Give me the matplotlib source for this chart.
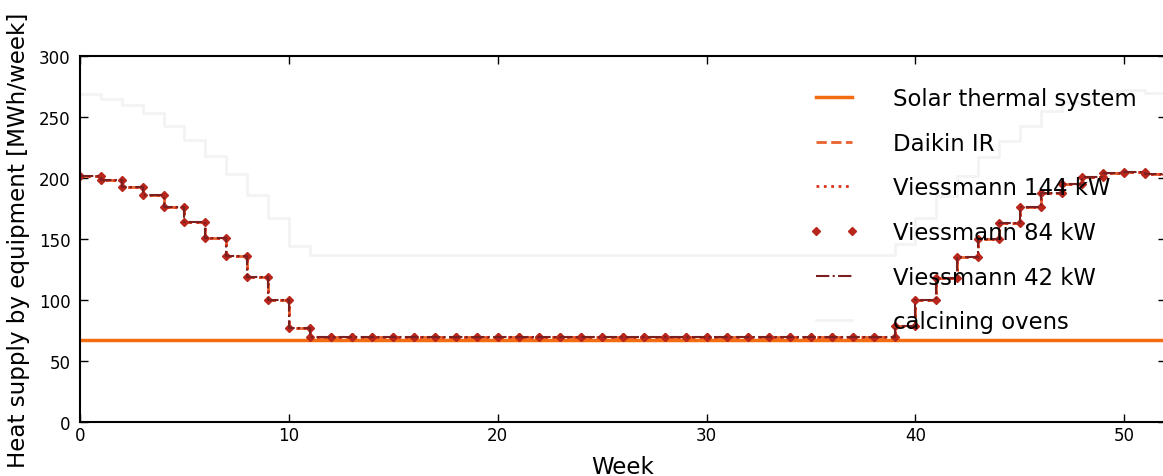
import numpy as np
import matplotlib
matplotlib.use('Agg')
import matplotlib.pyplot as plt

weeks = np.arange(52)

# weekly heat supply [MWh/week]
solar = [67] * 52
load = [202, 198, 193, 186, 176, 164, 151, 136, 119, 100, 77, 70,
        70, 70, 70, 70, 70, 70, 70, 70, 70, 70, 70, 70, 70, 70, 70, 70,
        70, 70, 70, 70, 70, 70, 70, 70, 70, 70, 70,
        79, 100, 118, 135, 150, 163, 176, 188, 195, 201, 204, 205, 203]
ovens = [269, 265, 260, 253, 243, 231, 218, 203, 186, 167, 144, 137,
         137, 137, 137, 137, 137, 137, 137, 137, 137, 137, 137, 137, 137, 137, 137, 137,
         137, 137, 137, 137, 137, 137, 137, 137, 137, 137, 137,
         146, 167, 185, 202, 217, 230, 243, 255, 262, 268, 271, 272, 270]


def steps(vals):
    # two points per week so each week is a flat segment
    x = np.repeat(weeks, 2) + np.tile([0, 1], len(weeks))
    y = np.repeat(vals, 2)
    return x, y


fig = plt.figure(figsize=(11.63, 4.77), dpi=100)
ax = fig.add_axes([0.0688, 0.1132, 0.9338, 0.7673])

x, y = steps(ovens)
ax.plot(x, y, color='#f3f3f3', lw=2, zorder=0.5, label='calcining ovens')
x, y = steps(solar)
ax.plot(x, y, color='#f36c12', lw=2.5, label='Solar thermal system')
x, y = steps(load)
ax.plot(x, y, color='#e8612e', lw=2, ls='--', label='Daikin IR')
ax.plot(x, y, color='#d9341c', lw=2, ls=':', label='Viessmann 144 kW')
ax.plot(x, y, color='#b8261c', ls='none', marker='D', ms=4.5, label='Viessmann 84 kW')
ax.plot(x, y, color='#7a2020', lw=1.5, ls='-.', label='Viessmann 42 kW')

ax.set_xlim(0, 52)
ax.set_ylim(0, 300)
ax.set_xticks([0, 10, 20, 30, 40, 50])
ax.set_yticks([0, 50, 100, 150, 200, 250, 300])
ax.tick_params(direction='in', top=True, right=True, length=6, width=1, labelsize=12)
ax.tick_params(axis='x', pad=3)
ax.tick_params(axis='y', pad=7)
for s in ax.spines.values():
    s.set_linewidth(1.5)

ax.set_xlabel('Week', fontsize=16.5, labelpad=8)
ax.set_ylabel('Heat supply by equipment [MWh/week]', fontsize=16.6)
ax.yaxis.set_label_coords(-0.046, 0.5)

handles, labels = ax.get_legend_handles_labels()
order = [1, 2, 3, 4, 5, 0]
leg = fig.legend([handles[i] for i in order], [labels[i] for i in order],
                 loc='upper left', bbox_to_anchor=(809 / 1163, 1 - 88 / 477),
                 frameon=False, fontsize=16.4, borderpad=0, borderaxespad=0,
                 labelspacing=0.95, handlelength=2.2, handletextpad=1.5, numpoints=2)
leg.set_zorder(1)

fig.savefig('out.png', dpi=100)
